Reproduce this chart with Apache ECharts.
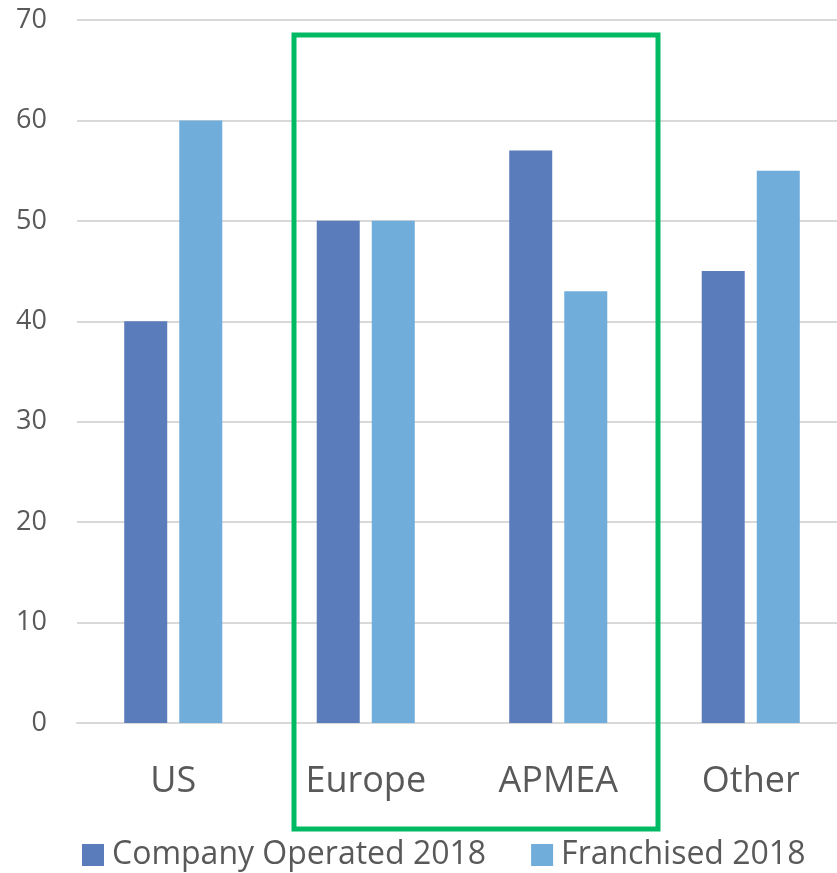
<!DOCTYPE html>
<html>
<head>
<meta charset="utf-8">
<script src="https://cdn.jsdelivr.net/npm/echarts@6/dist/echarts.min.js"></script>
<style>
    html, body { margin: 0; padding: 0; background: #fff; overflow: hidden; }
    #container_regions { width: 837px; height: 873px; }
</style>
</head>
<body>
<div id="container_regions"></div>
<script>
// Data
var regions = ['US', 'Europe', 'APMEA', 'Other'];
var company = [40, 50, 57, 45];
var franchised = [60, 50, 43, 55];
var yTicks = [0, 70, 10];  // min, max, interval

var regions_chart = echarts.init(document.getElementById('container_regions'));

var option_regions = {
    animation: false,
    textStyle: { fontFamily: 'Open Sans' },
    grid: {
        left: 77,
        right: -10,
        top: 20,
        bottom: 150,
        outerBoundsMode: 'none'
    },
    legend: {
        left: 77,
        top: 834,
        itemWidth: 22,
        itemHeight: 22,
        itemGap: 45,
        icon: 'rect',
        textStyle: { fontSize: 32, color: '#595959', fontFamily: 'Open Sans', padding: [0, 0, 0, 3] },
        data: ['Company Operated 2018', 'Franchised 2018']
    },
    xAxis: {
        type: 'category',
        data: regions,
        axisLine: { lineStyle: { color: '#d9d9d9', width: 2 } },
        axisTick: { show: false },
        axisLabel: { fontSize: 36, color: '#595959', margin: 41 }
    },
    yAxis: {
        type: 'value',
        min: yTicks[0],
        max: yTicks[1],
        interval: yTicks[2],
        axisLabel: { fontSize: 27, color: '#595959', margin: 30 },
        splitLine: { lineStyle: { color: '#d9d9d9', width: 2 } }
    },
    series: [
        {
            name: 'Company Operated 2018',
            type: 'bar',
            data: company,
            barWidth: 43,
            barGap: '28%',
            itemStyle: { color: '#5b7cbb' }
        },
        {
            name: 'Franchised 2018',
            type: 'bar',
            data: franchised,
            barWidth: 43,
            itemStyle: { color: '#70addb' }
        }
    ],
    graphic: [
        {
            type: 'rect',
            shape: { x: 294, y: 35, width: 364, height: 794 },
            style: { fill: 'none', stroke: '#00bb64', lineWidth: 5 },
            z: 100
        }
    ]
};

regions_chart.setOption(option_regions);
</script>
</body>
</html>
